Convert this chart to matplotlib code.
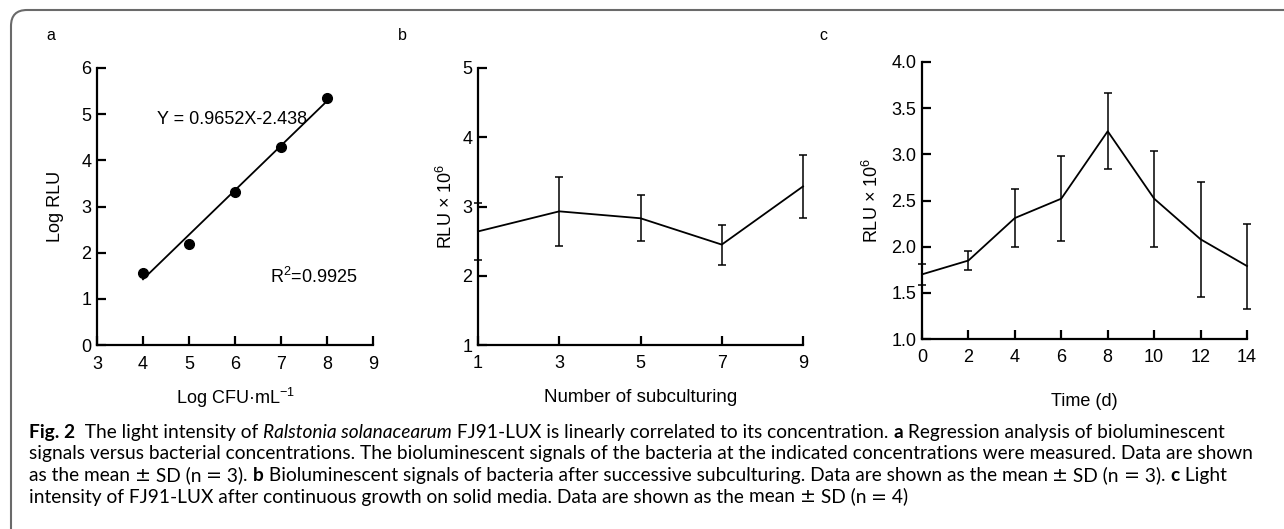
import matplotlib
matplotlib.use('Agg')
import matplotlib.pyplot as plt
from matplotlib.path import Path
from matplotlib.patches import PathPatch

W, H = 1284, 529
DPI = 100

# ---------------- data ----------------
# Panel a: regression of log RLU vs log CFU
a_x = [4, 5, 6, 7, 8]
a_y = [1.57, 2.19, 3.32, 4.28, 5.36]
a_slope = 0.9652
a_intercept = -2.438
a_xticks = [3, 4, 5, 6, 7, 8, 9]
a_yticks = [0, 1, 2, 3, 4, 5, 6]

# Panel b: subculturing
b_x = [1, 3, 5, 7, 9]
b_y = [2.64, 2.93, 2.83, 2.45, 3.29]
b_err = [0.41, 0.50, 0.33, 0.29, 0.46]
b_xticks = [1, 3, 5, 7, 9]
b_yticks = [1, 2, 3, 4, 5]

# Panel c: time course
c_x = [0, 2, 4, 6, 8, 10, 12, 14]
c_y = [1.70, 1.85, 2.31, 2.52, 3.25, 2.52, 2.08, 1.79]
c_err = [0.115, 0.10, 0.31, 0.46, 0.41, 0.52, 0.62, 0.46]
c_xticks = [0, 2, 4, 6, 8, 10, 12, 14]
c_yticks = [1.0, 1.5, 2.0, 2.5, 3.0, 3.5, 4.0]
c_yticklabels = ['1.0', '1.5', '2.0', '2.5', '3.0', '3.5', '4.0']

PM = '\u00b1'


def mean_sd(n):
    return [("mean ", 'normal', 'normal', 'txt'), (PM, 'normal', 'normal', 'sym'),
            (" SD (n ", 'normal', 'normal', 'txt'), ("=", 'normal', 'normal', 'sym'),
            (" " + n + ")", 'normal', 'normal', 'txt')]


caption_lines = [
    [("Fig. 2", 'bold', 'normal', 'txt'),
     ("  The light intensity of ", 'normal', 'normal', 'txt'),
     ("Ralstonia solanacearum", 'normal', 'italic', 'txt'),
     (" FJ91-LUX is linearly correlated to its concentration. ", 'normal', 'normal', 'txt'),
     ("a", 'bold', 'normal', 'txt'),
     (" Regression analysis of bioluminescent", 'normal', 'normal', 'txt')],
    [("signals versus bacterial concentrations. The bioluminescent signals of the bacteria at the "
      "indicated concentrations were measured. Data are shown", 'normal', 'normal', 'txt')],
    [("as the ", 'normal', 'normal', 'txt')] + mean_sd("3") +
    [(". ", 'normal', 'normal', 'txt'),
     ("b", 'bold', 'normal', 'txt'),
     (" Bioluminescent signals of bacteria after successive subculturing. Data are shown as the ",
      'normal', 'normal', 'txt')] + mean_sd("3") +
    [(". ", 'normal', 'normal', 'txt'),
     ("c", 'bold', 'normal', 'txt'),
     (" Light", 'normal', 'normal', 'txt')],
    [("intensity of FJ91-LUX after continuous growth on solid media. Data are shown as the ",
      'normal', 'normal', 'txt')] + mean_sd("4"),
]

# ---------------- style ----------------
plt.rcParams['font.family'] = ['Liberation Sans', 'DejaVu Sans']
plt.rcParams['mathtext.fontset'] = 'custom'
plt.rcParams['mathtext.rm'] = 'Liberation Sans'
plt.rcParams['mathtext.it'] = 'Liberation Sans:italic'
plt.rcParams['mathtext.bf'] = 'Liberation Sans:bold'

fig = plt.figure(figsize=(W / DPI, H / DPI), dpi=DPI)


def px_axes(left, top, right, bottom):
    return fig.add_axes([left / W, 1 - bottom / H, (right - left) / W, (bottom - top) / H])


def style_axes(ax, xpad, ypad, size=13):
    for s in ('top', 'right'):
        ax.spines[s].set_visible(False)
    for s in ('left', 'bottom'):
        ax.spines[s].set_linewidth(1.6)
    ax.tick_params(direction='in', length=6.8, width=1.6, labelsize=size, color='black')
    ax.tick_params(axis='x', pad=xpad)
    ax.tick_params(axis='y', pad=ypad)


# Panel a
ax_a = px_axes(97, 68, 373, 345)
style_axes(ax_a, 8, 4)
ax_a.set_xlim(3, 9)
ax_a.set_ylim(0, 6)
ax_a.set_xticks(a_xticks)
ax_a.set_yticks(a_yticks)
fit_x = [a_x[0], a_x[-1]]
fit_y = [a_slope * v + a_intercept for v in fit_x]
ax_a.plot(fit_x, fit_y, color='black', lw=1.3)
ax_a.plot(a_x, a_y, 'o', color='black', ms=7, clip_on=False)
ax_a.text(0.218, 0.815, "Y = 0.9652X-2.438", transform=ax_a.transAxes, fontsize=13,
          va='center', ha='left')
ax_a.text(0.628, 0.245, "R$^2$=0.9925", transform=ax_a.transAxes, fontsize=13,
          va='center', ha='left')
ax_a.set_xlabel("Log CFU\u00b7mL$^{-1}$", fontsize=13, va='center')
ax_a.xaxis.set_label_coords(0.5, -0.19)
ax_a.set_ylabel("Log RLU", fontsize=13, va='center')
ax_a.yaxis.set_label_coords(-0.152, 0.5)

# Panel b
ax_b = px_axes(478, 68, 803, 345)
style_axes(ax_b, 7.5, 4)
ax_b.set_xlim(1, 9)
ax_b.set_ylim(1, 5)
ax_b.set_xticks(b_xticks)
ax_b.set_yticks(b_yticks)
ax_b.errorbar(b_x, b_y, yerr=b_err, color='black', lw=1.3, elinewidth=1.1,
              capsize=3, capthick=1.1, clip_on=False)
ax_b.set_xlabel("Number of subculturing", fontsize=13.5, va='center')
ax_b.xaxis.set_label_coords(0.5, -0.19)
ax_b.set_ylabel("RLU \u00d7 10$^6$", fontsize=13, va='center')
ax_b.yaxis.set_label_coords(-0.1, 0.5)

# Panel c
ax_c = px_axes(922, 62, 1247, 339)
style_axes(ax_c, 7.5, 4)
ax_c.set_xlim(0, 14)
ax_c.set_ylim(1, 4)
ax_c.set_xticks(c_xticks)
ax_c.set_yticks(c_yticks)
ax_c.set_yticklabels(c_yticklabels)
ax_c.errorbar(c_x, c_y, yerr=c_err, color='black', lw=1.3, elinewidth=1.1,
              capsize=3, capthick=1.1, clip_on=False)
ax_c.set_xlabel("Time (d)", fontsize=13, va='center')
ax_c.xaxis.set_label_coords(0.5, -0.225)
ax_c.set_ylabel("RLU \u00d7 10$^6$", fontsize=13, va='center')
ax_c.yaxis.set_label_coords(-0.154, 0.5)

# Panel letters
for lbl, xp in (("a", 51), ("b", 402), ("c", 823)):
    fig.text(xp / W, 1 - 35 / H, lbl, fontsize=11.5, ha='center', va='center')

# Frame with rounded top-left corner
r = 16
fx, fy = 11, 10
verts = [(fx, H + 5), (fx, fy + r), (fx, fy), (fx + r, fy), (W + 5, fy)]
verts = [(x / W, 1 - y / H) for x, y in verts]
codes = [Path.MOVETO, Path.LINETO, Path.CURVE3, Path.CURVE3, Path.LINETO]
fig.patches.append(PathPatch(Path(verts, codes), transform=fig.transFigure,
                             fill=False, edgecolor='#6a6a6a', lw=1.5))

# Caption
families = {'txt': ['Lato'], 'sym': ['DejaVu Sans']}
renderer = fig.canvas.get_renderer()


def seg_width(txt, weight, style, fam, size):
    t1 = fig.text(0, 0, "|" + txt + "|", fontsize=size, fontweight=weight, fontstyle=style,
                  family=families[fam])
    t2 = fig.text(0, 0, "||", fontsize=size, fontweight=weight, fontstyle=style,
                  family=families[fam])
    w = t1.get_window_extent(renderer).width - t2.get_window_extent(renderer).width
    t1.remove()
    t2.remove()
    return w


def line_width(segs, size):
    return sum(seg_width(t, w, s, f, size) for t, w, s, f in segs)


x0 = 29
target = 1257 - x0
base = 10.0
cap_size = base * target / line_width(caption_lines[1], base)

baselines = [438, 459.5, 481, 502.5]
for segs, yb in zip(caption_lines, baselines):
    x = x0
    for txt, weight, style, fam in segs:
        fig.text(x / W, 1 - yb / H, txt, fontsize=cap_size, fontweight=weight,
                 fontstyle=style, family=families[fam], ha='left', va='baseline')
        x += seg_width(txt, weight, style, fam, cap_size)

fig.savefig('out.png', dpi=DPI)
